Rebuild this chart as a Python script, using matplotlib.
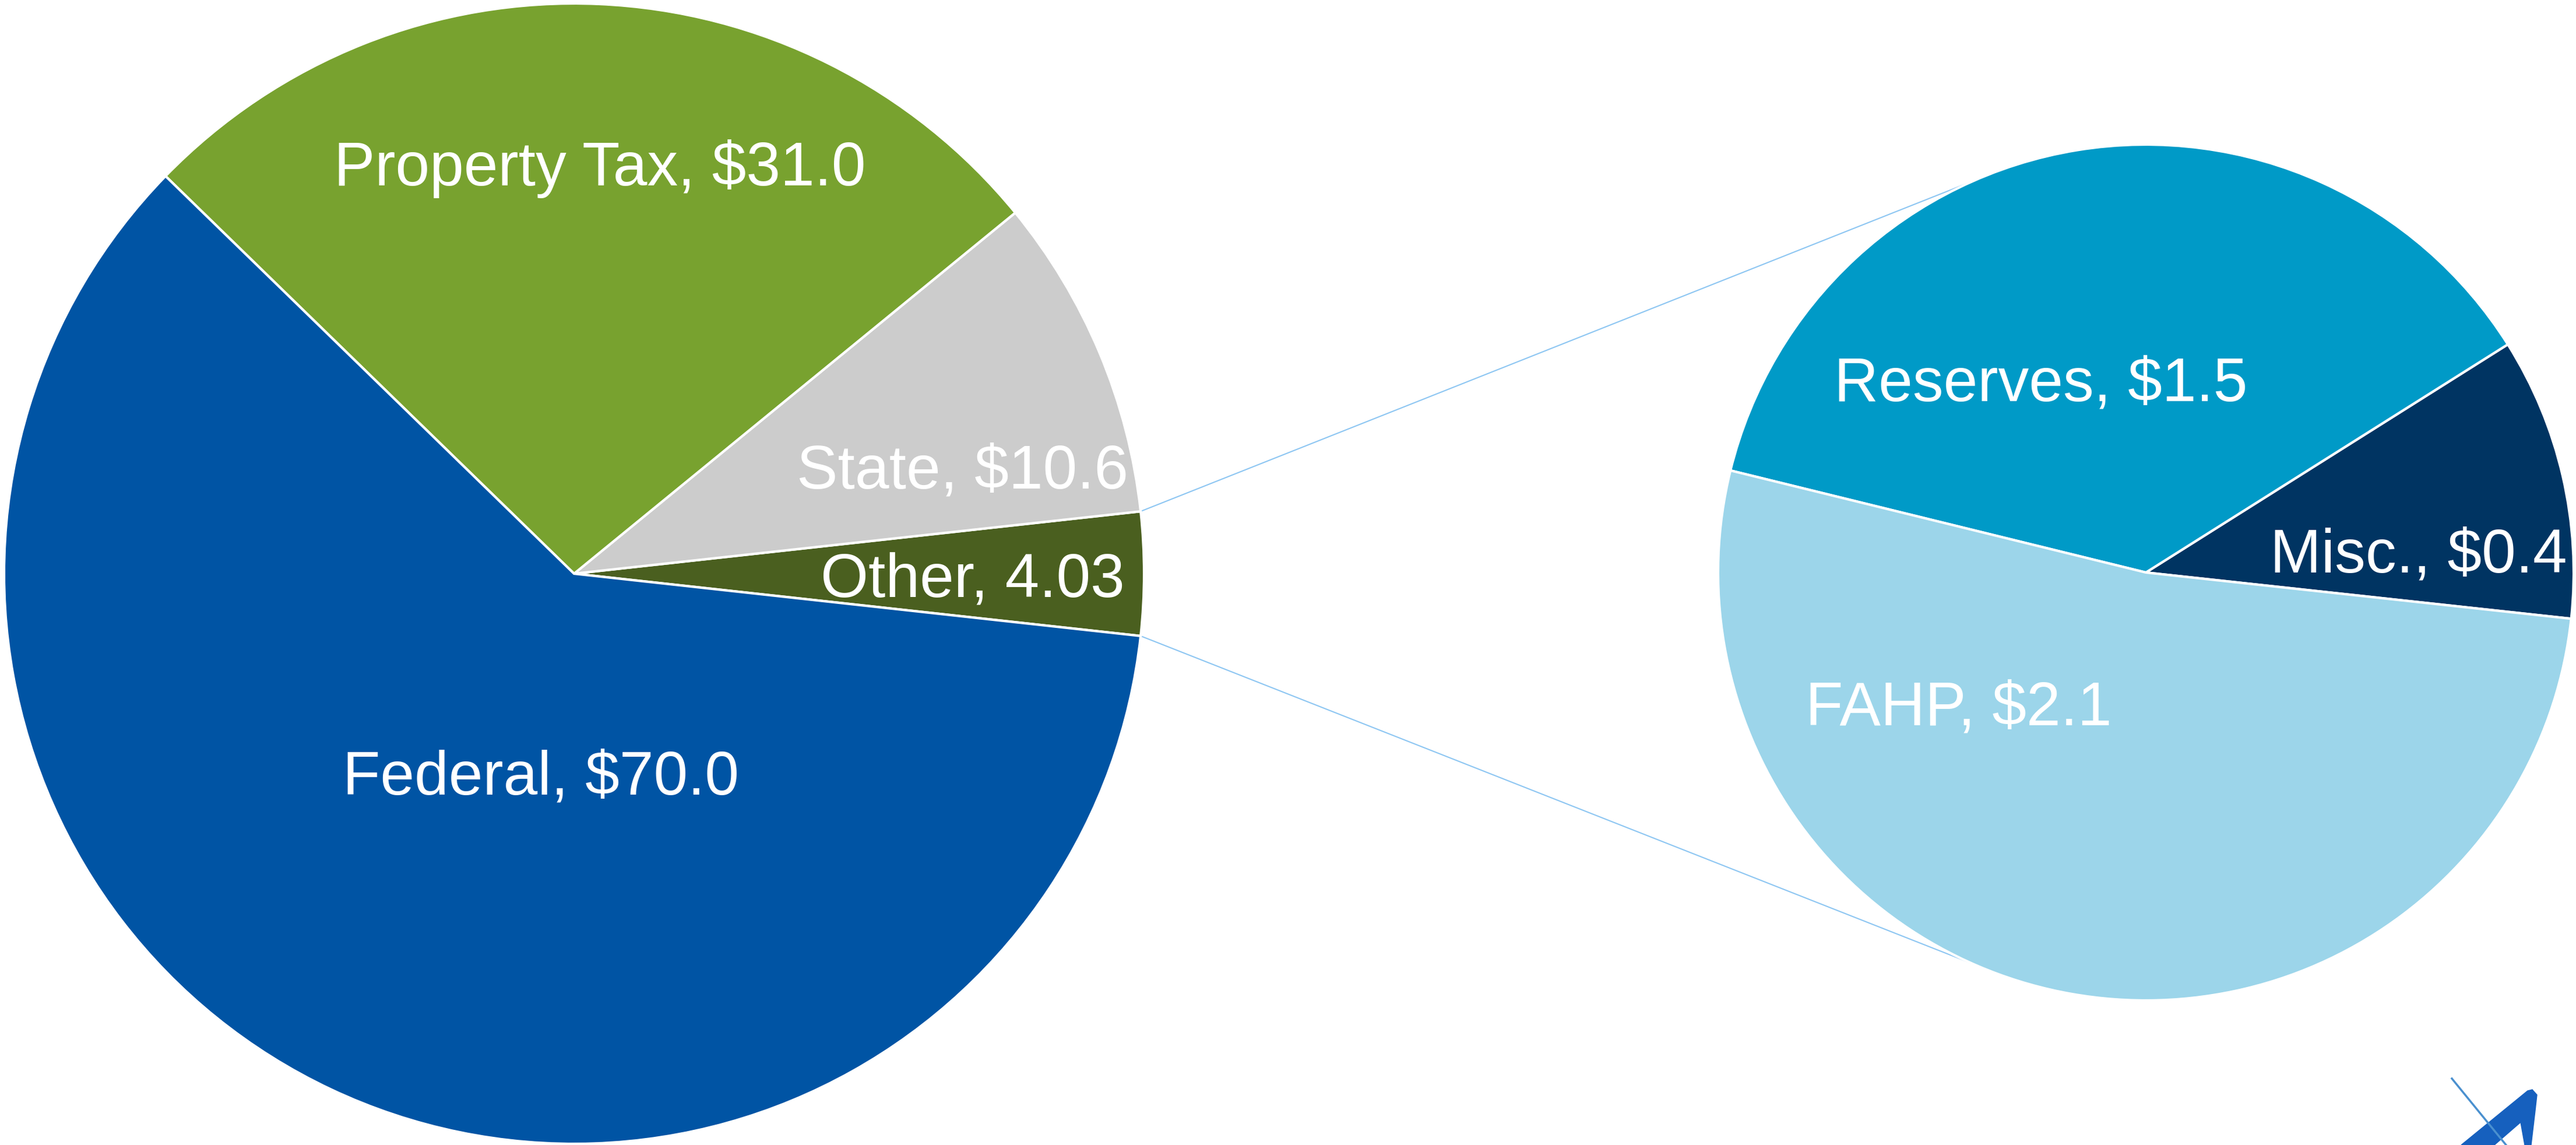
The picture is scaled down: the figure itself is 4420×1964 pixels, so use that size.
import numpy as np
import matplotlib
matplotlib.use("Agg")
import matplotlib.pyplot as plt
from matplotlib.patches import Polygon

# revenue sources ($M) -- "Other" is broken out in the right-hand pie
main_labels = ["Other", "State", "Property Tax", "Federal"]
main_values = [4.03, 10.6, 31.0, 70.0]
main_text = ["Other, 4.03", "State, $10.6", "Property Tax, $31.0", "Federal, $70.0"]
main_colors = ["#4A5F1F", "#CCCCCC", "#78A22F", "#0054A4"]

sub_labels = ["Misc.", "Reserves", "FAHP"]
sub_values = [0.43, 1.5, 2.1]
sub_text = ["Misc., $0.4", "Reserves, $1.5", "FAHP, $2.1"]
sub_colors = ["#003462", "#009AC7", "#9CD5EA"]

W, H = 4420, 1964
FONT = ["Liberation Sans", "DejaVu Sans"]
LINE = "#8DC6F2"

fig = plt.figure(figsize=(W / 100, H / 100), dpi=100)
ax = fig.add_axes([0, 0, 1, 1])

c1, r1 = (985, H - 984), 978      # main pie
c2, r2 = (3682, H - 982), 734     # breakdown pie
half = main_values[0] / sum(main_values) * 180

wp = dict(edgecolor="white", linewidth=3)
ax.pie(main_values, colors=main_colors, startangle=-half, center=c1, radius=r1,
       counterclock=True, wedgeprops=wp)
ax.pie(sub_values, colors=sub_colors, startangle=-6.2, center=c2, radius=r2,
       counterclock=True, wedgeprops=wp)

# label anchors (centre x, baseline y) in radius units from each pie centre
main_pos = [(0.699, -0.040), (0.682, 0.150), (0.045, 0.681), (-0.058, -0.387)]
sub_pos = [(0.638, 0.001), (-0.245, 0.401), (-0.437, -0.356)]
for txt, (dx, dy) in zip(main_text, main_pos):
    ax.text(c1[0] + dx * r1, c1[1] + dy * r1, txt, color="white", fontsize=76,
            family=FONT, ha="center", va="baseline")
for txt, (dx, dy) in zip(sub_text, sub_pos):
    ax.text(c2[0] + dx * r2, c2[1] + dy * r2, txt, color="white", fontsize=76,
            family=FONT, ha="center", va="baseline")

# connector lines from the "Other" wedge to the breakdown pie
for s in (1, -1):
    a1 = np.radians(s * half)
    a2 = np.radians(s * 113.8)
    ax.plot([c1[0] + r1 * np.cos(a1), c2[0] + r2 * np.cos(a2)],
            [c1[1] + r1 * np.sin(a1), c2[1] + r2 * np.sin(a2)],
            color=LINE, lw=1.5, zorder=0)

# logo fragment, bottom right corner (image pixel coords)
logo = [(4223, 1964), (4337, 1871), (4345, 1869), (4353, 1878), (4350, 1905),
        (4343, 1964), (4332, 1964), (4325, 1925), (4280, 1964)]
ax.add_patch(Polygon([(x, H - y) for x, y in logo], closed=True, fc="#1660BE",
                     ec="#1660BE", lw=1, zorder=3))
ax.plot([4207, 4300], [H - 1850, H - 1964], color="#4A90CF", lw=2.5, zorder=4)

ax.set_xlim(0, W)
ax.set_ylim(0, H)
ax.set_aspect("equal")
ax.axis("off")
fig.savefig("out.png", dpi=100)
